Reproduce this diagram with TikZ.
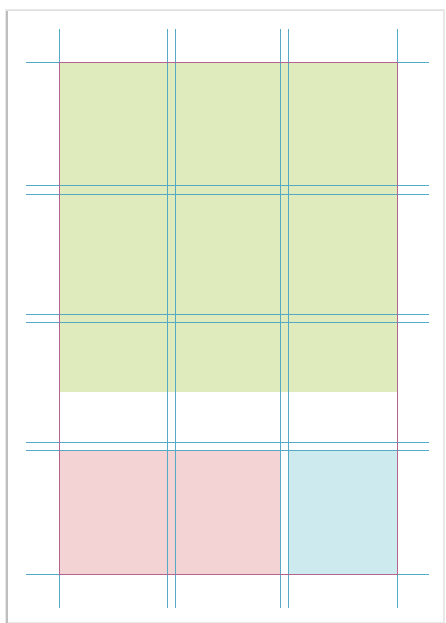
\documentclass[tikz,border=0pt]{standalone}
\definecolor{guide}{RGB}{84,170,196}
\definecolor{marg}{RGB}{180,100,145}
\definecolor{fgreen}{RGB}{224,235,189}
\definecolor{fpink}{RGB}{244,211,213}
\definecolor{fblue}{RGB}{205,234,238}
\definecolor{shadow}{RGB}{190,190,190}
\tikzset{
  guideline/.style={draw=guide, line width=1.6pt},
  marginline/.style={draw=marg, line width=1.2pt},
}
\begin{document}
\begin{tikzpicture}[x=1pt,y=-1pt]
\useasboundingbox (0,0) rectangle (445,623);
\fill[white] (0,0) rectangle (445,623);
% page
\fill[shadow!35] (5,9) rectangle (444.5,623);
\fill[white] (8,11) rectangle (443,622);
\draw[shadow, line width=1.8pt] (7,11) -- (7,623);
\draw[shadow!50, line width=0.6pt] (8,10.5) -- (443,10.5);
% fills
\fill[fgreen] (59.5,62.5) rectangle (397.5,391.5);
\fill[fpink] (59.5,450.5) rectangle (280.5,574.5);
\fill[fblue] (288.5,450.5) rectangle (397.5,574.5);
% guides vertical
\foreach \x in {59.5,167.5,175.5,280.5,288.5,397.5}
  \draw[guideline] (\x,29) -- (\x,608);
% guides horizontal
\foreach \y in {62.5,185.5,194.5,314.5,322.5,442.5,450.5,574.5}
  \draw[guideline] (26,\y) -- (429,\y);
% margins
\draw[marginline] (59.5,62.5) rectangle (397.5,574.5);
\end{tikzpicture}
\end{document}
